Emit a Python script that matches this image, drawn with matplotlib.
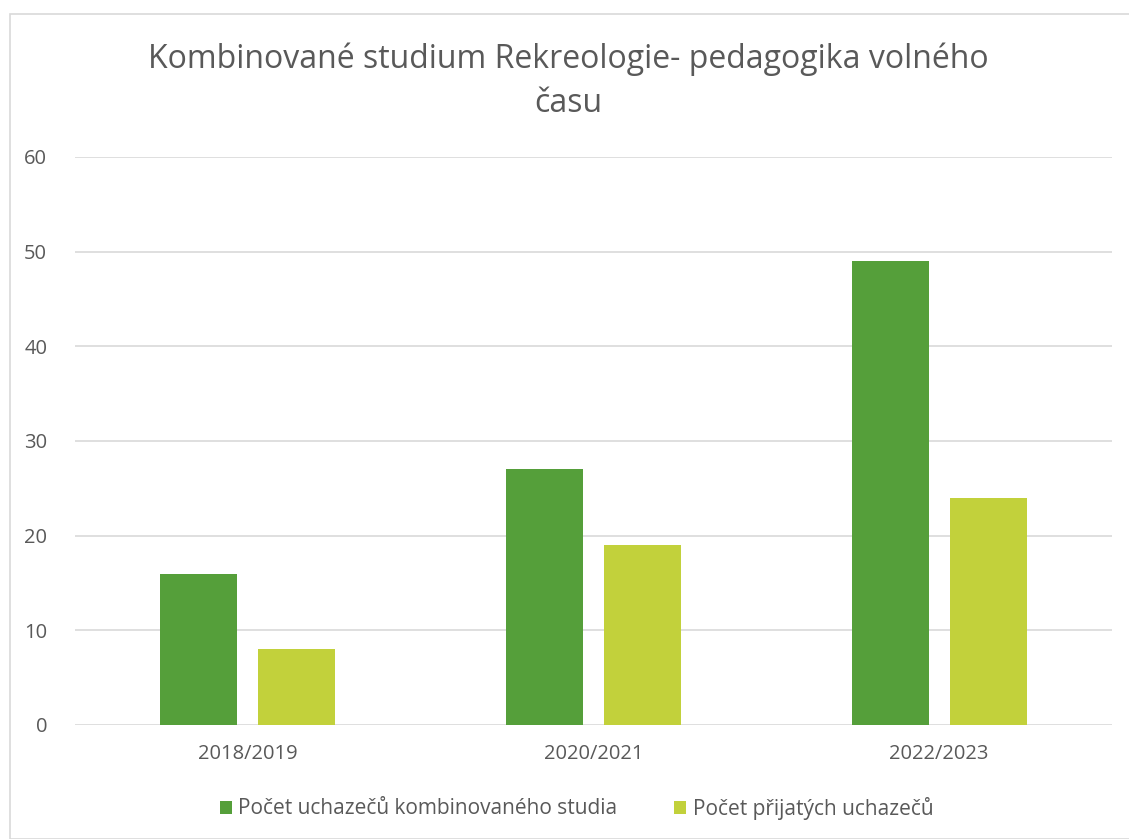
import numpy as np
import matplotlib.pyplot as plt
from matplotlib.patches import Rectangle

roky = ['2018/2019', '2020/2021', '2022/2023']
uchazeci = [16, 27, 49]
prijati = [8, 19, 24]

plt.rcParams['font.family'] = ['Open Sans', 'DejaVu Sans']

fig = plt.figure(figsize=(11.29, 8.39), dpi=100)
ax = fig.add_axes([75/1129, 1 - 725/839, 1037/1129, (725-157)/839])

x = np.arange(len(roky))
w = 0.223
ax.bar(x - 0.142, uchazeci, w, color='#559F3A', label='Počet uchazečů kombinovaného studia', zorder=3)
ax.bar(x + 0.142, prijati, w, color='#C2D13B', label='Počet přijatých uchazečů', zorder=3)

ax.set_xlim(-0.5, 2.5)
ax.set_ylim(0, 60)
ax.set_yticks(range(0, 61, 10))
ax.set_xticks(x)
ax.set_xticklabels(roky)
ax.grid(axis='y', color='#D9D9D9', linewidth=1.2, zorder=0)
for s in ax.spines.values():
    s.set_visible(False)
ax.tick_params(length=0, labelsize=14.5, colors='#595959', pad=14)
ax.tick_params(axis='y', pad=20)

fig.text(0.5 + 4/1129, 1 - 81/839, 'Kombinované studium Rekreologie- pedagogika volného\nčasu',
         ha='center', va='center', fontsize=23, color='#595959', linespacing=1.45)

fig.legend(loc='center', bbox_to_anchor=(0.5 + 12/1129, 1 - 808/839), ncol=2, frameon=False,
           fontsize=15, labelcolor='#595959', handlelength=0.6, handleheight=0.6,
           handletextpad=0.3, columnspacing=2.7)

fig.patches.append(Rectangle((10/1129, 0), 1.2, 1 - 14/839, transform=fig.transFigure,
                             fill=False, edgecolor='#D9D9D9', linewidth=1.2))

fig.savefig('out.png', dpi=100)
